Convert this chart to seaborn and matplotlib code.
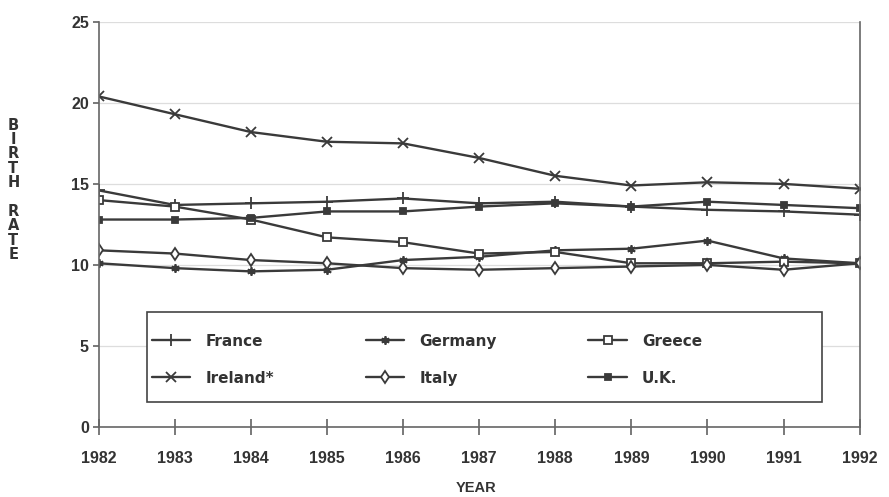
import numpy as np
import pandas as pd
import matplotlib
matplotlib.use("Agg")
import matplotlib.pyplot as plt
from matplotlib.patches import Rectangle
import seaborn as sns

# values
years = [1982, 1983, 1984, 1985, 1986, 1987, 1988, 1989, 1990, 1991, 1992]
france = [14.6, 13.7, 13.8, 13.9, 14.1, 13.8, 13.9, 13.6, 13.4, 13.3, 13.1]
germany = [10.1, 9.8, 9.6, 9.7, 10.3, 10.5, 10.9, 11.0, 11.5, 10.4, 10.1]
greece = [14.0, 13.6, 12.8, 11.7, 11.4, 10.7, 10.8, 10.1, 10.1, 10.2, 10.1]
ireland = [20.4, 19.3, 18.2, 17.6, 17.5, 16.6, 15.5, 14.9, 15.1, 15.0, 14.7]
italy = [10.9, 10.7, 10.3, 10.1, 9.8, 9.7, 9.8, 9.9, 10.0, 9.7, 10.1]
uk = [12.8, 12.8, 12.9, 13.3, 13.3, 13.6, 13.8, 13.6, 13.9, 13.7, 13.5]
y_ticks = [0, 5, 10, 15, 20, 25]

series = {"France": france, "Germany": germany, "Greece": greece,
          "Ireland*": ireland, "Italy": italy, "U.K.": uk}
markers = {"France": "+", "Germany": (6, 2, 0), "Greece": "s",
           "Ireland*": "x", "Italy": "d", "U.K.": "s"}
sizes = {"France": 8, "Germany": 6, "Greece": 6, "Ireland*": 7, "Italy": 6, "U.K.": 5}

df = pd.DataFrame([(c, y, v) for c, vals in series.items() for y, v in zip(years, vals)],
                  columns=["country", "year", "rate"])

sns.set_style("white")
plt.rcParams["font.family"] = ["Liberation Sans", "DejaVu Sans"]
plt.rcParams["font.weight"] = "bold"

fig = plt.figure(figsize=(8.89, 4.97), dpi=100)
ax = fig.add_axes([0.111, 0.141, 0.856, 0.815])
line_col = "#3a3a3a"

for name in series:
    sub = df[df["country"] == name]
    mfc = "white" if name in ("Greece", "Italy") else line_col
    sns.lineplot(data=sub, x="year", y="rate", ax=ax, color=line_col, lw=1.7,
                 marker=markers[name], markersize=sizes[name], mec=line_col, mfc=mfc,
                 mew=1.3, label=name)

ax.set_xlim(1982, 1992)
ax.set_ylim(0, 25)
ax.set_xticks(years)
ax.set_yticks(y_ticks)
ax.tick_params(axis="x", bottom=True, direction="inout", length=12, width=1.1,
               colors="#555555", labelsize=11.5, labelcolor="#333333", pad=11)
ax.tick_params(axis="y", left=True, direction="out", length=4, width=1.1,
               colors="#555555", labelsize=11.5, labelcolor="#333333", pad=3)
for lab in ax.get_xticklabels() + ax.get_yticklabels():
    lab.set_fontweight("bold")
ax.grid(axis="y", color="#dddddd", lw=0.9)
for side in ["left", "bottom", "right"]:
    ax.spines[side].set_visible(True)
    ax.spines[side].set_color("#666666")
    ax.spines[side].set_linewidth(1.2)
ax.spines["top"].set_visible(False)
ax.set_xlabel("")
ax.set_ylabel("")

fig.text(0.535, 0.004, "YEAR", ha="center", va="bottom", fontsize=10.5,
         fontweight="bold", color="#333333")
fig.text(0.015, 0.618, "\n".join("BIRTH") + "\n\n" + "\n".join("RATE"), ha="center",
         va="center", fontsize=10.5, fontweight="bold", color="#333333", linespacing=0.95,
         family=["DejaVu Sans"])

# legend box drawn separately so the columns stay packed to the left like the original
ax.add_patch(Rectangle((0.063, 0.062), 0.887, 0.222, transform=ax.transAxes,
                       fill=True, facecolor="white", edgecolor="#444444", lw=1.2, zorder=4))
h, l = ax.get_legend_handles_labels()
order = ["France", "Ireland*", "Germany", "Italy", "Greece", "U.K."]
hd = dict(zip(l, h))
leg = ax.legend([hd[k] for k in order], order, loc="center left",
                bbox_to_anchor=(0.052, 0.166), ncol=3, frameon=False,
                handlelength=2.5, labelspacing=1.45, handletextpad=1.0,
                columnspacing=6.0,
                prop={"weight": "bold", "size": 11, "family": "DejaVu Sans"})
leg.set_zorder(5)
for t in leg.get_texts():
    t.set_color("#333333")

fig.savefig("out.png", dpi=100)
